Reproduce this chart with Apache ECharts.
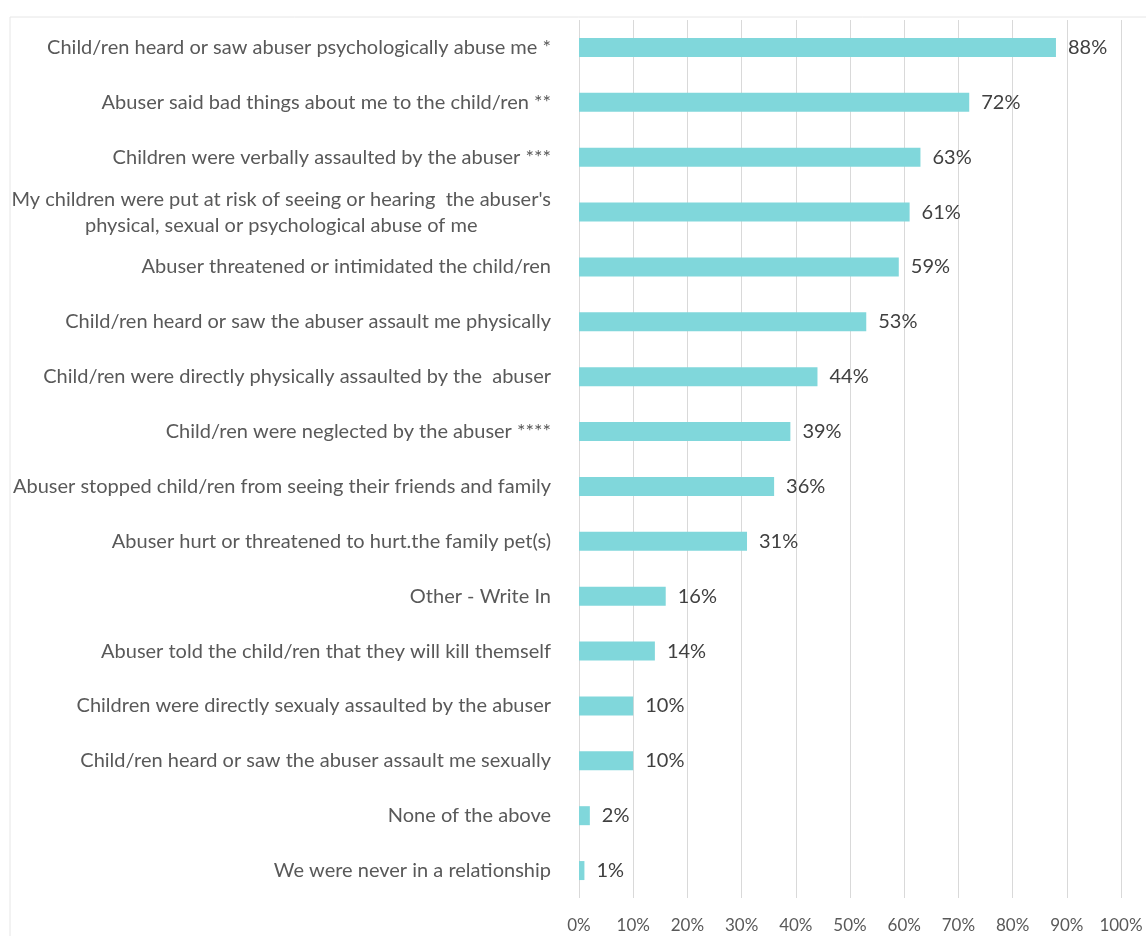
<!DOCTYPE html>
<html>
<head>
<meta charset="utf-8">
<script src="https://cdn.jsdelivr.net/npm/echarts@6/dist/echarts.min.js"></script>
<style>
  html, body { margin: 0; padding: 0; background: #ffffff; }
  #chart { width: 1146px; height: 936px; }
</style>
</head>
<body>
<div id="chart"></div>
<script>
// Survey responses, top to bottom as shown
const categories = [
  "Child/ren heard or saw abuser psychologically abuse me *",
  "Abuser said bad things about me to the child/ren **",
  "Children were verbally assaulted by the abuser ***",
  "My children were put at risk of seeing or hearing  the abuser's\nphysical, sexual or psychological abuse of me",
  "Abuser threatened or intimidated the child/ren",
  "Child/ren heard or saw the abuser assault me physically",
  "Child/ren were directly physically assaulted by the  abuser",
  "Child/ren were neglected by the abuser ****",
  "Abuser stopped child/ren from seeing their friends and family",
  "Abuser hurt or threatened to hurt.the family pet(s)",
  "Other - Write In",
  "Abuser told the child/ren that they will kill themself",
  "Children were directly sexualy assaulted by the abuser",
  "Child/ren heard or saw the abuser assault me sexually",
  "None of the above",
  "We were never in a relationship"
];
const percentages = [88, 72, 63, 61, 59, 53, 44, 39, 36, 31, 16, 14, 10, 10, 2, 1];
const tickLabels = ["0%", "10%", "20%", "30%", "40%", "50%", "60%", "70%", "80%", "90%", "100%"];

const FONT = "Lato";
const chart = echarts.init(document.getElementById('chart'));

// category axis runs bottom-up, so reverse for top-down order
const cats = categories.slice().reverse();
const vals = percentages.slice().reverse();

chart.setOption({
  animation: false,
  backgroundColor: '#ffffff',
  graphic: [{
    type: 'rect',
    shape: { x: 10, y: 17, width: 1150, height: 940 },
    style: { fill: 'none', stroke: '#e6e6e6', lineWidth: 1 }
  }],
  grid: { left: 579, right: 25, top: 20, bottom: 38, containLabel: false },
  xAxis: {
    type: 'value',
    min: 0, max: 100, interval: 10,
    axisLine: { show: false },
    axisTick: { show: false },
    splitLine: { show: true, lineStyle: { color: '#d9d9d9', width: 1 } },
    axisLabel: {
      margin: 19,
      color: '#595959',
      fontFamily: FONT,
      fontSize: 17,
      formatter: function (v) { return tickLabels[Math.round(v / 10)]; }
    }
  },
  yAxis: {
    type: 'category',
    data: cats,
    axisLine: { show: false },
    axisTick: { show: false },
    axisLabel: {
      margin: 28,
      color: '#595959',
      fontFamily: FONT,
      fontSize: 20,
      lineHeight: 26,
      formatter: function (v) {
        if (v.indexOf('\n') >= 0) {
          return v.split('\n').map(function (s) { return '{c|' + s + '}'; }).join('\n');
        }
        return v;
      },
      rich: {
        c: { align: 'center', color: '#595959', fontFamily: FONT, fontSize: 20, lineHeight: 26 }
      }
    }
  },
  series: [{
    type: 'bar',
    data: vals,
    barWidth: 19,
    itemStyle: { color: '#80d7db' },
    label: {
      show: true,
      position: 'right',
      distance: 12,
      color: '#404040',
      fontFamily: FONT,
      fontSize: 20,
      formatter: function (p) { return p.value + '%'; }
    }
  }]
});
</script>
</body>
</html>
